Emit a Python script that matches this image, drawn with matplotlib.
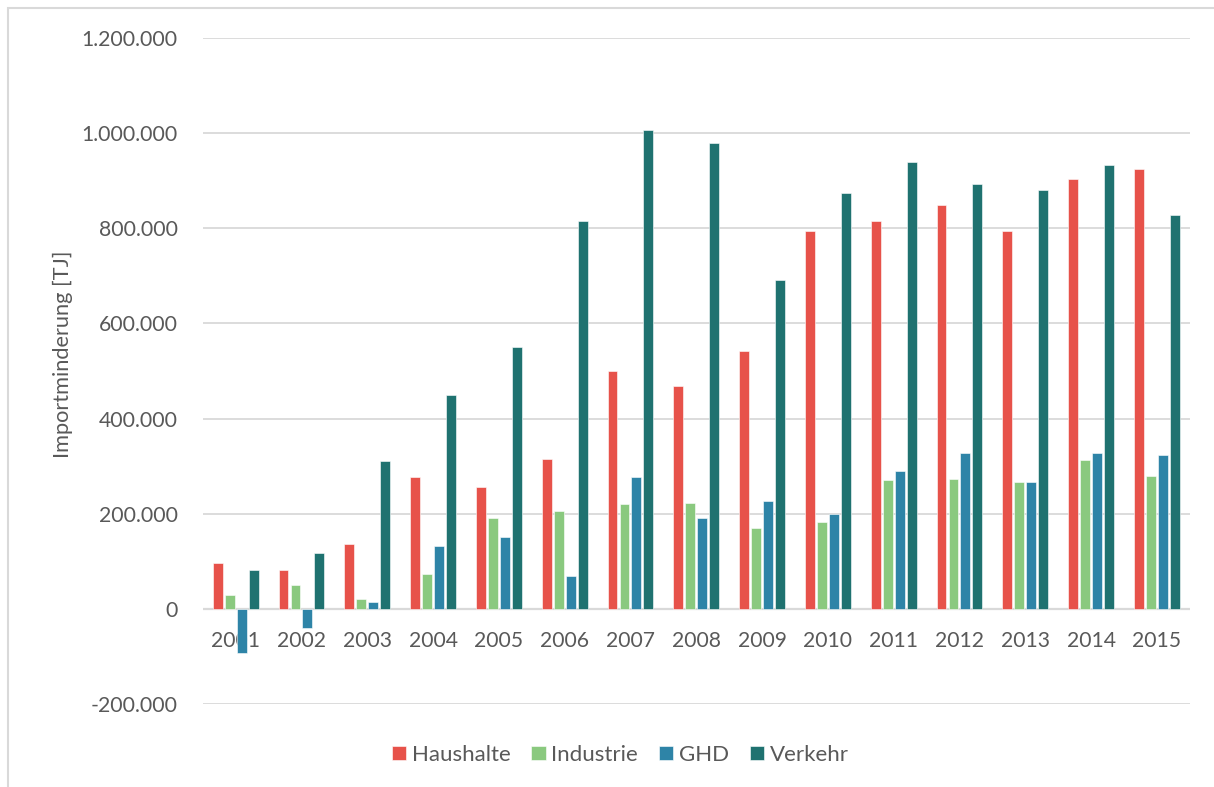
import numpy as np
import matplotlib
matplotlib.use("Agg")
import matplotlib.pyplot as plt
from matplotlib.patches import Rectangle
from matplotlib.ticker import FuncFormatter, MultipleLocator

# Importminderung je Sektor, in TJ
jahre = ["2001", "2002", "2003", "2004", "2005", "2006", "2007", "2008",
         "2009", "2010", "2011", "2012", "2013", "2014", "2015"]
haushalte = [96000, 81000, 136000, 278000, 256000, 315000, 499000, 469000,
             543000, 795000, 816000, 848000, 795000, 904000, 925000]
industrie = [29000, 50000, 20000, 74000, 191000, 206000, 220000, 223000,
             170000, 182000, 270000, 273000, 266000, 313000, 279000]
ghd = [-92000, -40000, 15000, 133000, 152000, 68000, 278000, 191000,
       226000, 199000, 290000, 327000, 266000, 327000, 323000]
verkehr = [82000, 118000, 311000, 449000, 551000, 815000, 1006000, 980000,
           691000, 874000, 940000, 893000, 881000, 932000, 827000]

serien = [
    ("Haushalte", haushalte, "#E7524A"),
    ("Industrie", industrie, "#8AC97F"),
    ("GHD", ghd, "#2E84A7"),
    ("Verkehr", verkehr, "#1F7270"),
]

plt.rcParams["font.family"] = ["Lato", "DejaVu Sans"]
textfarbe = "#595959"
gitterfarbe = "#D9D9D9"

fig = plt.figure(figsize=(12.14, 7.87), dpi=100)
ax = fig.add_axes([0.167, 0.1055, 0.813, 0.8462])

x = np.arange(len(jahre))
schritt = 0.182
breite = 0.150
for i, (name, werte, farbe) in enumerate(serien):
    ax.bar(x + (i - 1.5) * schritt, werte, width=breite, color=farbe,
           edgecolor="white", linewidth=0.4, label=name, zorder=3)

ax.set_xlim(-0.5, len(jahre) - 0.5)
ax.set_ylim(-200000, 1200000)
ax.yaxis.set_major_locator(MultipleLocator(200000))
ax.yaxis.set_major_formatter(
    FuncFormatter(lambda v, _: f"{v:,.0f}".replace(",", ".")))
ax.grid(axis="y", color=gitterfarbe, linewidth=1.3, zorder=0)
ax.axhline(0, color=gitterfarbe, linewidth=1.6, zorder=2)

# Jahresbeschriftung direkt unter der Nulllinie
ax.spines["bottom"].set_position(("data", 0))
for s in ax.spines.values():
    s.set_visible(False)
ax.set_xticks(x)
ax.set_xticklabels(jahre)
ax.tick_params(axis="x", length=0, pad=16, labelsize=15.2, labelcolor=textfarbe)
ax.tick_params(axis="y", length=0, pad=18, labelsize=15.3, labelcolor=textfarbe)

ax.set_ylabel("Importminderung [TJ]", fontsize=15.7, color=textfarbe)
ax.yaxis.set_label_coords(-0.131, 0.525)

fig.legend(loc="center", bbox_to_anchor=(0.511, 0.041), ncol=4, frameon=False,
           fontsize=16, labelcolor=textfarbe, handlelength=0.64,
           handleheight=0.64, handletextpad=0.25, columnspacing=0.95)

# Diagrammrahmen
fig.add_artist(Rectangle((8 / 1214, -0.1), 1.2, 1.1 - 8 / 787,
                         transform=fig.transFigure, fill=False,
                         edgecolor=gitterfarbe, linewidth=1.5))

fig.savefig("out.png", dpi=100)
